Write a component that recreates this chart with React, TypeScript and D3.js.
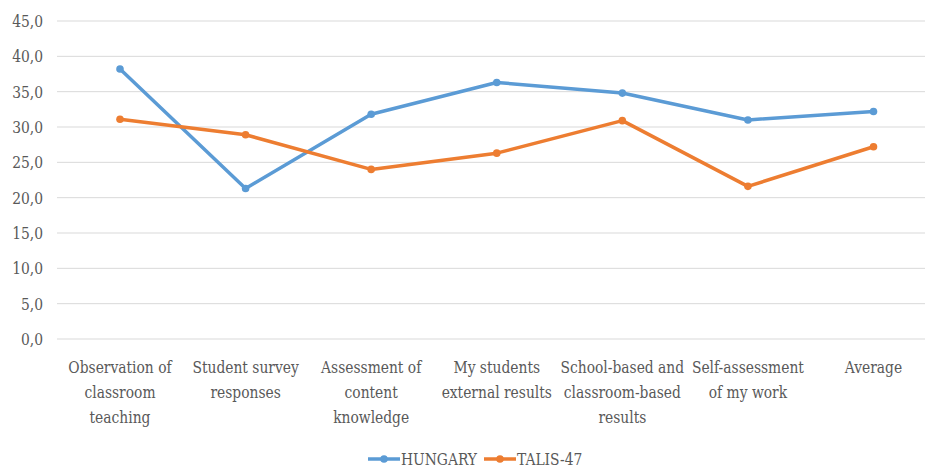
import React from "react";
import * as d3 from "d3";

const categories = [
  "Observation of\nclassroom\nteaching",
  "Student survey\nresponses",
  "Assessment of\ncontent\nknowledge",
  "My students\nexternal results",
  "School-based and\nclassroom-based\nresults",
  "Self-assessment\nof my work",
  "Average",
];
const hungary = [38.2, 21.3, 31.8, 36.3, 34.8, 31.0, 32.2];
const talis = [31.1, 28.9, 24.0, 26.3, 30.9, 21.6, 27.2];
const yTicks = [0, 5, 10, 15, 20, 25, 30, 35, 40, 45];
const seriesNames = ["HUNGARY", "TALIS-47"];

const W = 925;
const H = 468;
const FONT = "'DejaVu Serif Condensed', 'DejaVu Serif', serif";
const TEXT = "#595959";
const COLORS = ["#5B9BD5", "#ED7D31"];
const FS = 17.5;
const SX = 0.88;

export default function App() {
  const x = d3.scalePoint<string>().domain(categories).range([120, 873.5]);
  const y = d3.scaleLinear().domain([0, 45]).range([339, 21]);
  const line = d3
    .line<number>()
    .x((_, i) => x(categories[i]) as number)
    .y((d) => y(d));
  const series = [hungary, talis];

  return (
    <svg
      width={W}
      height={H}
      style={{ position: "absolute", left: 0, top: 0, background: "#fff" }}
      fontFamily={FONT}
    >
      <rect width={W} height={H} fill="#fff" />
      {yTicks.map((t) => (
        <g key={t}>
          <line x1={57} x2={W} y1={y(t)} y2={y(t)} stroke="#d9d9d9" strokeWidth={1} />
          <text
            transform={`translate(43,${y(t)}) scale(${SX},1)`}
            dy="0.35em"
            textAnchor="end"
            fontSize={FS}
            fill={TEXT}
          >
            {t.toFixed(1).replace(".", ",")}
          </text>
        </g>
      ))}
      {categories.map((c) => (
        <text
          key={c}
          transform={`translate(${x(c)},367) scale(${SX},1)`}
          textAnchor="middle"
          fontSize={FS}
          fill={TEXT}
        >
          {c.split("\n").map((ln, i) => (
            <tspan key={i} x={0} dy={i === 0 ? "0.35em" : 25}>
              {ln}
            </tspan>
          ))}
        </text>
      ))}
      {series.map((s, si) => (
        <g key={si}>
          <path
            d={line(s) || ""}
            fill="none"
            stroke={COLORS[si]}
            strokeWidth={3.5}
            strokeLinejoin="round"
            strokeLinecap="round"
          />
          {s.map((v, i) => (
            <circle key={i} cx={x(categories[i])} cy={y(v)} r={3.8} fill={COLORS[si]} />
          ))}
        </g>
      ))}
      {seriesNames.map((n, i) => {
        const lx = [368, 484][i];
        return (
          <g key={n}>
            <line x1={lx} x2={lx + 32} y1={459} y2={459} stroke={COLORS[i]} strokeWidth={3.5} />
            <circle cx={lx + 16} cy={459} r={3.8} fill={COLORS[i]} />
            <text
              transform={`translate(${lx + 33},459) scale(${SX},1)`}
              dy="0.35em"
              fontSize={FS}
              fill={TEXT}
            >
              {n}
            </text>
          </g>
        );
      })}
    </svg>
  );
}
